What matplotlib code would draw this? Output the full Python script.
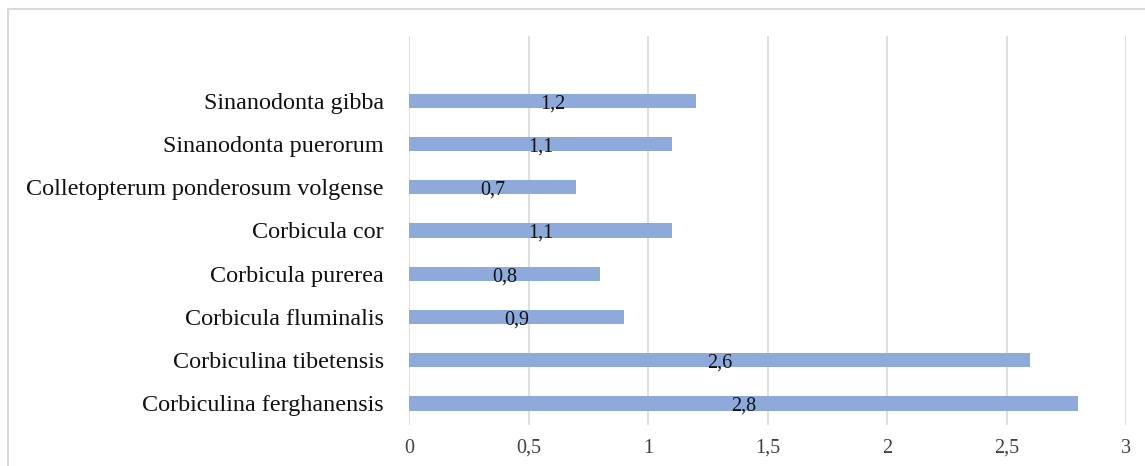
import matplotlib.pyplot as plt
from matplotlib.patches import Rectangle

species = [
    "Corbiculina ferghanensis",
    "Corbiculina tibetensis",
    "Corbicula fluminalis",
    "Corbicula purerea",
    "Corbicula cor",
    "Colletopterum ponderosum volgense",
    "Sinanodonta puerorum",
    "Sinanodonta gibba",
]
values = [2.8, 2.6, 0.9, 0.8, 1.1, 0.7, 1.1, 1.2]
xticks = [0, 0.5, 1, 1.5, 2, 2.5, 3]
xtick_labels = ["0", "0,5", "1", "1,5", "2", "2,5", "3"]

plt.rcParams["font.family"] = ["Liberation Serif", "DejaVu Serif"]

W, H = 1145, 466
fig = plt.figure(figsize=(W / 100, H / 100), dpi=100)
# light frame around the chart area
fig.patches.append(Rectangle((8 / W, -0.05), 1.1, (H - 9) / H + 0.05,
                             transform=fig.transFigure, fill=False,
                             edgecolor="#d9d9d9", linewidth=1.5))

ax = fig.add_axes([409 / W, (H - 425) / H, (1126 - 409) / W, (425 - 36) / H])
ypos = list(range(len(species)))
ax.barh(ypos, values, height=0.33, color="#8eaadb", zorder=3)

# value labels in the middle of each bar
for y, v in zip(ypos, values):
    ax.text(v / 2, y - 0.07, f"{v:.1f}".replace(".", ","), ha="center",
            va="center", fontsize=14.5, color="#111111", zorder=4)

ax.set_xlim(0, 3)
ax.set_ylim(-0.5, 8.5)
ax.set_xticks(xticks)
ax.set_xticklabels(xtick_labels, fontsize=14.5, color="#404040")
ax.set_yticks(ypos)
ax.set_yticklabels(species, fontsize=17.4, color="#111111")
ax.tick_params(length=0, axis="x", pad=10)
ax.tick_params(length=0, axis="y", pad=18)
ax.grid(axis="x", color="#d9d9d9", linewidth=1.2, zorder=0)
for s in ax.spines.values():
    s.set_visible(False)

fig.savefig("out.png", dpi=100)
